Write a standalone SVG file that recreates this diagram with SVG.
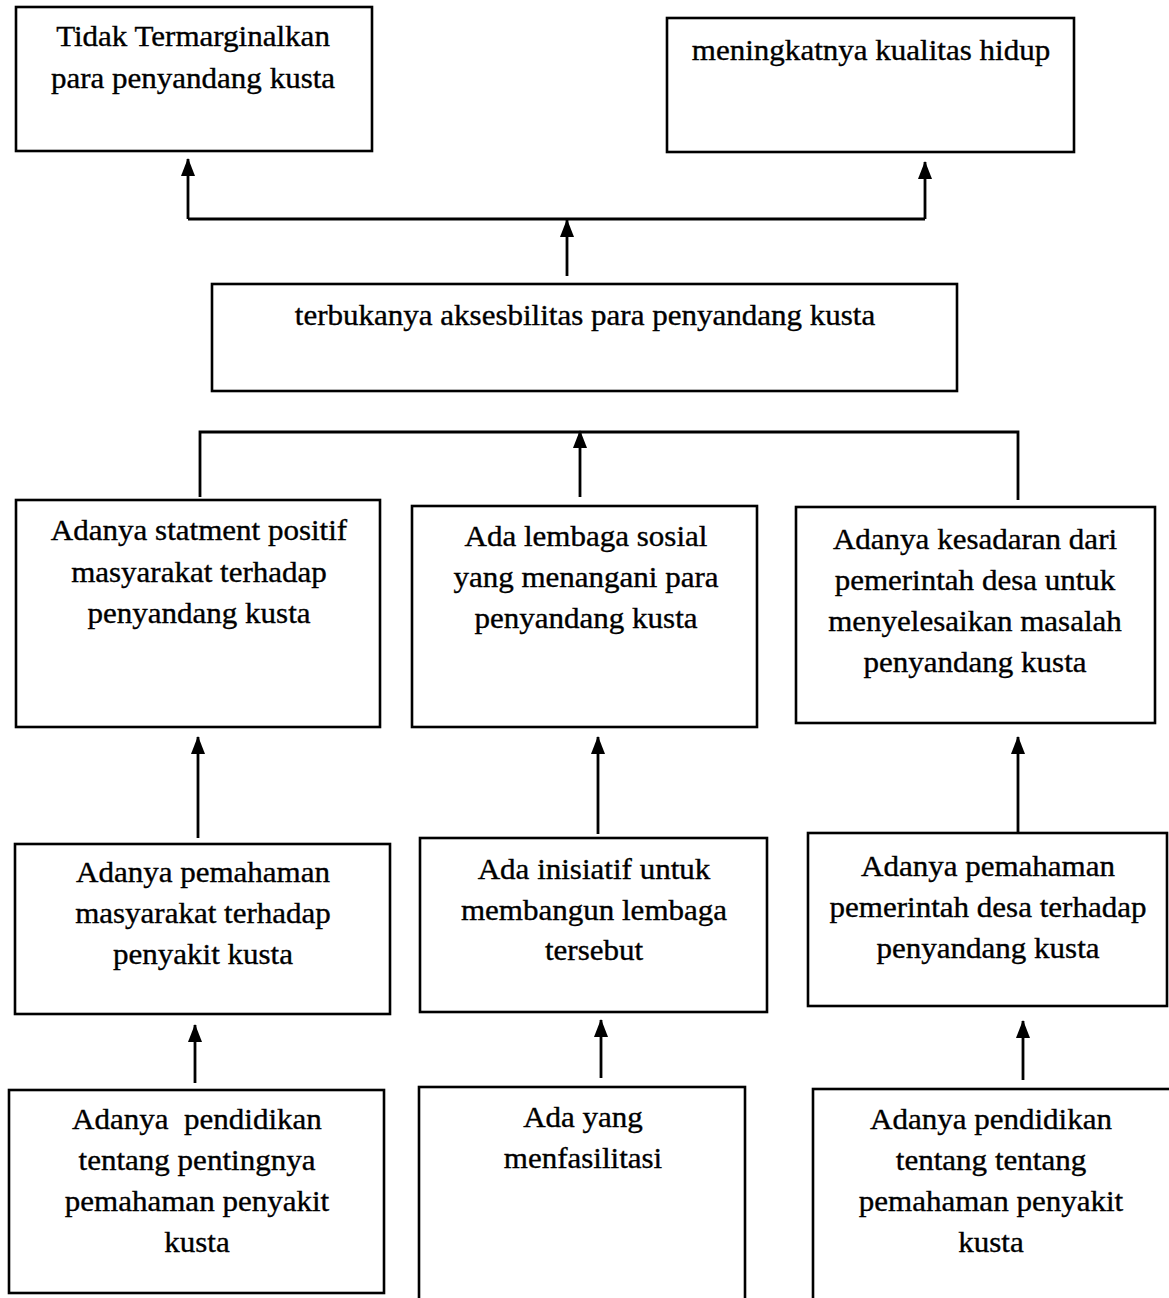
<svg xmlns="http://www.w3.org/2000/svg" width="1169" height="1298" viewBox="0 0 1169 1298">
<style>
.box{fill:#fff;stroke:#000;stroke-width:2.6}
.t{font-family:"Liberation Serif","Times New Roman",serif;font-size:29px;fill:#000;stroke:#000;stroke-width:0.35;text-anchor:middle}
.c{fill:none;stroke:#000;stroke-width:2.8}
</style>
<defs>
<marker id="ah" markerUnits="userSpaceOnUse" markerWidth="18" markerHeight="14" viewBox="0 0 18 14" refX="17" refY="7" orient="auto">
<path d="M0,0 L18,7 L0,14 z" fill="#000"/>
</marker>
</defs>
<rect width="1169" height="1298" fill="#fff"/>

<g id="n1">
<rect class="box" x="16" y="7" width="356" height="144"/>
<text class="t" transform="matrix(1.07 0 0 1 193 0)" x="0" y="46">Tidak Termarginalkan</text>
<text class="t" transform="matrix(1.07 0 0 1 193 0)" x="0" y="88">para penyandang kusta</text>
</g>
<g id="n2">
<rect class="box" x="667" y="18" width="407" height="134"/>
<text class="t" transform="matrix(1.07 0 0 1 871 0)" x="0" y="60">meningkatnya kualitas hidup</text>
</g>
<g id="n3">
<rect class="box" x="212" y="284" width="745" height="107"/>
<text class="t" transform="matrix(1.07 0 0 1 585 0)" x="0" y="325">terbukanya aksesbilitas para penyandang kusta</text>
</g>
<g id="n4">
<rect class="box" x="16" y="500" width="364" height="227"/>
<text class="t" transform="matrix(1.07 0 0 1 199 0)" x="0" y="540">Adanya statment positif</text>
<text class="t" transform="matrix(1.07 0 0 1 199 0)" x="0" y="582">masyarakat terhadap</text>
<text class="t" transform="matrix(1.07 0 0 1 199 0)" x="0" y="623">penyandang kusta</text>
</g>
<g id="n5">
<rect class="box" x="412" y="506" width="345" height="221"/>
<text class="t" transform="matrix(1.07 0 0 1 586 0)" x="0" y="546">Ada lembaga sosial</text>
<text class="t" transform="matrix(1.07 0 0 1 586 0)" x="0" y="587">yang menangani para</text>
<text class="t" transform="matrix(1.07 0 0 1 586 0)" x="0" y="628">penyandang kusta</text>
</g>
<g id="n6">
<rect class="box" x="796" y="507" width="359" height="216"/>
<text class="t" transform="matrix(1.07 0 0 1 975 0)" x="0" y="549">Adanya kesadaran dari</text>
<text class="t" transform="matrix(1.07 0 0 1 975 0)" x="0" y="590">pemerintah desa untuk</text>
<text class="t" transform="matrix(1.07 0 0 1 975 0)" x="0" y="631">menyelesaikan masalah</text>
<text class="t" transform="matrix(1.07 0 0 1 975 0)" x="0" y="672">penyandang kusta</text>
</g>
<g id="n7">
<rect class="box" x="15" y="844" width="375" height="170"/>
<text class="t" transform="matrix(1.07 0 0 1 203 0)" x="0" y="882">Adanya pemahaman</text>
<text class="t" transform="matrix(1.07 0 0 1 203 0)" x="0" y="923">masyarakat terhadap</text>
<text class="t" transform="matrix(1.07 0 0 1 203 0)" x="0" y="964">penyakit kusta</text>
</g>
<g id="n8">
<rect class="box" x="420" y="838" width="347" height="174"/>
<text class="t" transform="matrix(1.07 0 0 1 594 0)" x="0" y="879">Ada inisiatif untuk</text>
<text class="t" transform="matrix(1.07 0 0 1 594 0)" x="0" y="920">membangun lembaga</text>
<text class="t" transform="matrix(1.07 0 0 1 594 0)" x="0" y="960">tersebut</text>
</g>
<g id="n9">
<rect class="box" x="808" y="833" width="359" height="173"/>
<text class="t" transform="matrix(1.07 0 0 1 988 0)" x="0" y="876">Adanya pemahaman</text>
<text class="t" transform="matrix(1.07 0 0 1 988 0)" x="0" y="917">pemerintah desa terhadap</text>
<text class="t" transform="matrix(1.07 0 0 1 988 0)" x="0" y="958">penyandang kusta</text>
</g>
<g id="n10">
<rect class="box" x="9" y="1090" width="375" height="203"/>
<text class="t" transform="matrix(1.07 0 0 1 197 0)" x="0" y="1129" xml:space="preserve">Adanya  pendidikan</text>
<text class="t" transform="matrix(1.07 0 0 1 197 0)" x="0" y="1170">tentang pentingnya</text>
<text class="t" transform="matrix(1.07 0 0 1 197 0)" x="0" y="1211">pemahaman penyakit</text>
<text class="t" transform="matrix(1.07 0 0 1 197 0)" x="0" y="1252">kusta</text>
</g>
<g id="n11">
<rect class="box" x="419" y="1087" width="326" height="240"/>
<text class="t" transform="matrix(1.07 0 0 1 583 0)" x="0" y="1127">Ada yang</text>
<text class="t" transform="matrix(1.07 0 0 1 583 0)" x="0" y="1168">menfasilitasi</text>
</g>
<g id="n12">
<rect class="box" x="813" y="1089" width="380" height="240"/>
<text class="t" transform="matrix(1.07 0 0 1 991 0)" x="0" y="1129">Adanya pendidikan</text>
<text class="t" transform="matrix(1.07 0 0 1 991 0)" x="0" y="1170">tentang tentang</text>
<text class="t" transform="matrix(1.07 0 0 1 991 0)" x="0" y="1211">pemahaman penyakit</text>
<text class="t" transform="matrix(1.07 0 0 1 991 0)" x="0" y="1252">kusta</text>
</g>

<g id="connectors">
<path class="c" d="M188,219 H925"/>
<path class="c" d="M188,219 V159" marker-end="url(#ah)"/>
<path class="c" d="M925,219 V162" marker-end="url(#ah)"/>
<path class="c" d="M567,276 V220" marker-end="url(#ah)"/>
<path class="c" d="M200,497 V432 H1018 V500"/>
<path class="c" d="M580,497 V431" marker-end="url(#ah)"/>
<path class="c" d="M198,838 V737" marker-end="url(#ah)"/>
<path class="c" d="M598,834 V737" marker-end="url(#ah)"/>
<path class="c" d="M1018,834 V737" marker-end="url(#ah)"/>
<path class="c" d="M195,1083 V1025" marker-end="url(#ah)"/>
<path class="c" d="M601,1078 V1020" marker-end="url(#ah)"/>
<path class="c" d="M1023,1080 V1021" marker-end="url(#ah)"/>
</g>
</svg>
